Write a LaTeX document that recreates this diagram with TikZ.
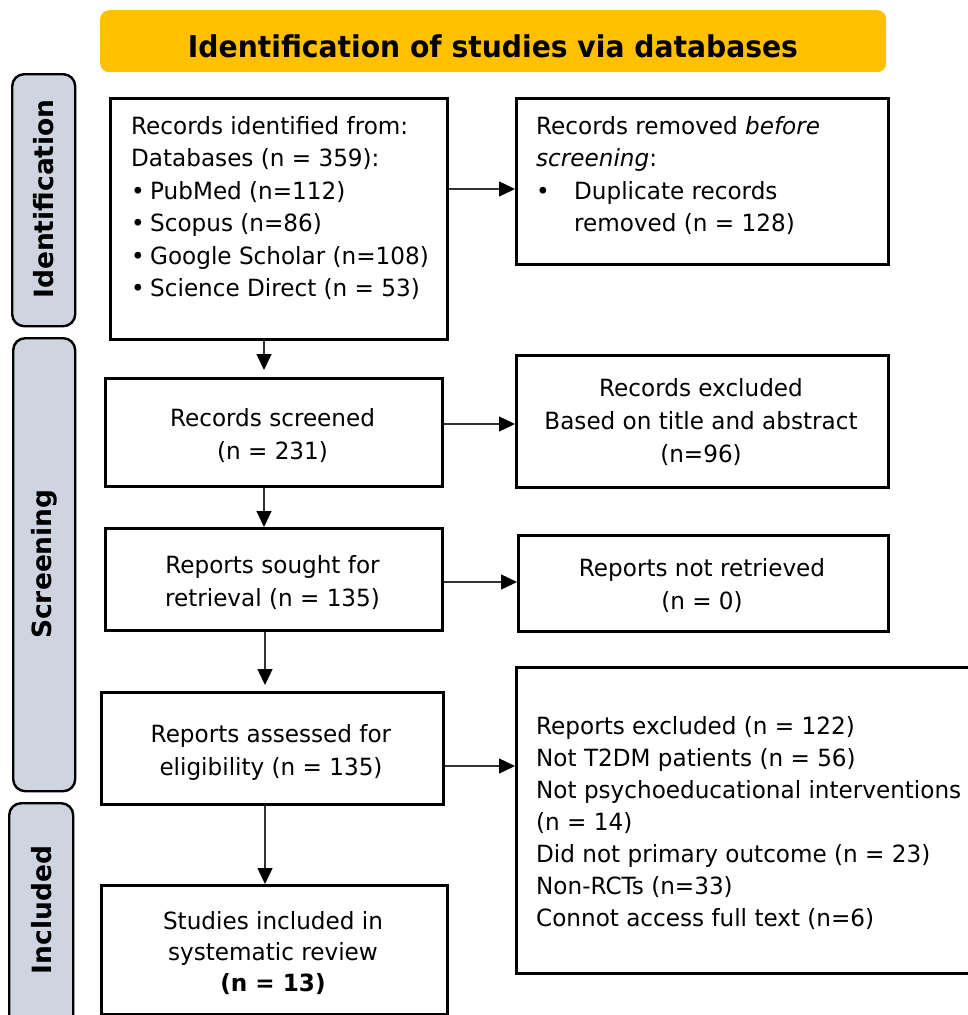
\documentclass[tikz,border=0pt]{standalone}
\usepackage{fontspec}
\setmainfont{DejaVu Sans}[FakeStretch=0.975]
\newfontfamily\titlefont{DejaVu Sans}[FakeStretch=0.94]
\newfontfamily\sidefont{DejaVu Sans}
\usetikzlibrary{arrows.meta}
\definecolor{titleyellow}{HTML}{FFC000}
\definecolor{barfill}{RGB}{206,213,224}
\definecolor{arrgray}{RGB}{50,50,50}
\begin{document}
\begin{tikzpicture}[x=1pt,y=-1pt,
  box/.style={draw=black,line width=2.6pt,fill=white,rectangle,anchor=north west,inner sep=0pt},
  sidebar/.style={draw=black,line width=2.4pt,fill=barfill,rectangle,rounded corners=12pt,anchor=north west,inner sep=0pt},
  sidelabel/.style={rotate=90,font=\sidefont\bfseries\fontsize{26.5}{30}\selectfont,inner sep=0pt},
  maintext/.style={font=\fontsize{23.7}{33}\selectfont,inner sep=0pt,align=center},
  lefttext/.style={font=\fontsize{23.7}{32.4}\selectfont,inner sep=0pt,align=left,anchor=west},
  arr/.style={draw=arrgray,line width=1.4pt,-{Triangle[length=16pt,width=15pt,fill=black,color=black]}}
]
\useasboundingbox (0,0) rectangle (968,1015);

% title
\node[fill=titleyellow,rounded corners=9pt,anchor=north west,minimum width=786pt,minimum height=62pt,inner sep=0pt] (title) at (100,10) {};
\node[font=\titlefont\bfseries\fontsize{30}{34}\selectfont,inner sep=0pt] (titletext) at (493,46) {Identification of studies via databases};

% side bars
\node[sidebar,minimum width=63pt,minimum height=252pt] (idbar) at (11,73) {};
\node[sidelabel] (idlabel) at (44,199) {Identification};
\node[sidebar,minimum width=62pt,minimum height=453pt] (scbar) at (12,337) {};
\node[sidelabel] (sclabel) at (44,564) {Screening};
\node[sidebar,minimum width=64pt,minimum height=240pt] (inbar) at (8,802) {};
\node[sidelabel] (inlabel) at (42,910) {Included};

% boxes
\node[box,minimum width=337pt,minimum height=241pt] (b1) at (109,97) {};
\node[box,minimum width=372pt,minimum height=166pt] (b2) at (515,97) {};
\node[box,minimum width=337pt,minimum height=108pt] (b3) at (104,377) {};
\node[box,minimum width=372pt,minimum height=132pt] (b4) at (515,354) {};
\node[box,minimum width=337pt,minimum height=102pt] (b5) at (104,527) {};
\node[box,minimum width=370pt,minimum height=96pt] (b6) at (517,534) {};
\node[box,minimum width=342pt,minimum height=112pt] (b7) at (100,691) {};
\node[box,minimum width=480pt,minimum height=306pt] (b8) at (515,666) {};
\node[box,minimum width=346pt,minimum height=129pt] (b9) at (100,884) {};

% texts
\node[lefttext] (t1) at (131,208) {Records identified from:\\
Databases (n = 359):\\
\makebox[19pt][l]{•}PubMed (n=112)\\
\makebox[19pt][l]{•}Scopus (n=86)\\
\makebox[19pt][l]{•}Google Scholar (n=108)\\
\makebox[19pt][l]{•}Science Direct (n = 53)};
\node[lefttext,font=\fontsize{23.7}{32.3}\selectfont] (t2) at (536,175.5) {Records removed \textit{before}\\
\textit{screening}:\\
\makebox[38pt][l]{•}Duplicate records\\
\hspace*{38pt}removed (n = 128)};
\node[maintext] (t3) at (272.5,436) {Records screened\\(n = 231)};
\node[maintext] (t4) at (701,422.5) {Records excluded\\Based on title and abstract\\(n=96)};
\node[maintext] (t5) at (272.5,583) {Reports sought for\\retrieval (n = 135)};
\node[maintext] (t6) at (702,585.5) {Reports not retrieved\\(n = 0)};
\node[maintext] (t7) at (271,752) {Reports assessed for\\eligibility (n = 135)};
\node[lefttext,font=\fontsize{23.7}{32}\selectfont] (t8) at (536,823) {Reports excluded (n = 122)\\
Not T2DM patients (n = 56)\\
Not psychoeducational interventions\\
(n = 14)\\
Did not primary outcome (n = 23)\\
Non-RCTs (n=33)\\
Connot access full text (n=6)};
\node[maintext,font=\fontsize{23.7}{31}\selectfont] (t9) at (273,953) {Studies included in\\systematic review\\\textbf{(n = 13)}};

% connector guides
\coordinate (vx1) at (264,0);
\coordinate (vx2) at (265,0);
\coordinate (hy1) at (0,189);
\coordinate (hy2) at (0,424);
\coordinate (hy3) at (0,582);
\coordinate (hy4) at (0,766);

% vertical arrows
\draw[arr,shorten >=7pt] (b1.south -| vx1) -- (b3.north -| vx1);
\draw[arr] (b3.south -| vx1) -- (b5.north -| vx1);
\draw[arr,shorten >=6pt] (b5.south -| vx2) -- (b7.north -| vx2);
\draw[arr] (b7.south -| vx2) -- (b9.north -| vx2);

% horizontal arrows
\draw[arr] (b1.east |- hy1) -- (b2.west |- hy1);
\draw[arr] (b3.east |- hy2) -- (b4.west |- hy2);
\draw[arr] (b5.east |- hy3) -- (b6.west |- hy3);
\draw[arr] (b7.east |- hy4) -- (b8.west |- hy4);
\end{tikzpicture}
\end{document}
